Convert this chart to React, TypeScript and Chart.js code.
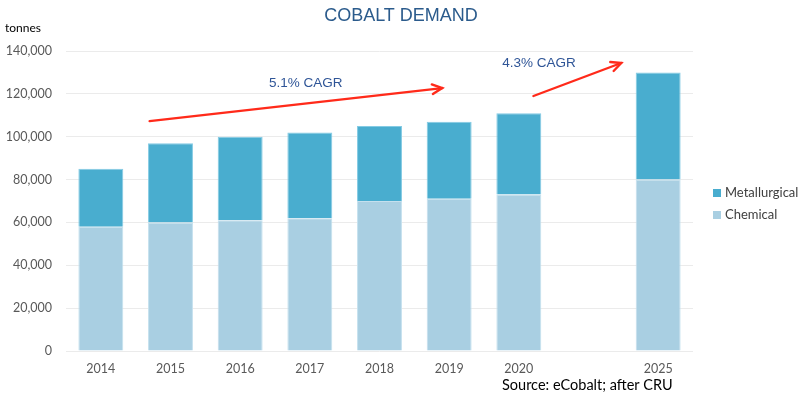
import React, { useEffect, useRef } from "react";
import { Chart, registerables } from "chart.js";

Chart.register(...registerables);

const categories = ["2014", "2015", "2016", "2017", "2018", "2019", "2020", "", "2025"];
const chemical = [58000, 60000, 61000, 62000, 70000, 71000, 73000, null, 80000];
const metallurgical = [27000, 37000, 39000, 40000, 35000, 36000, 38000, null, 50000];
const yTicksMax = 140000;
const yStep = 20000;
const titleText = "COBALT DEMAND";
const unitText = "tonnes";
const sourceText = "Source: eCobalt; after CRU";
// arrows: [fromIndex, fromValue, toIndex, toValue]
const arrows = [
  [0.7, 107300, 4.9, 122700],
  [6.21, 119000, 7.47, 134400],
];
// labels: [text, index, value]
const cagrLabels: [string, number, number][] = [
  ["5.1% CAGR", 2.94, 125000],
  ["4.3% CAGR", 6.29, 134400],
];

const COL_MET = "#49adcf";
const COL_CHEM = "#a9cfe2";

const overlay = {
  id: "overlay",
  afterDraw(chart: any) {
    const ctx = chart.ctx;
    const xs = chart.scales.x;
    const ys = chart.scales.y;
    ctx.save();
    // title
    ctx.fillStyle = "#2b5b8c";
    ctx.font = "18px 'Liberation Sans', Arial, sans-serif";
    ctx.textAlign = "center";
    ctx.textBaseline = "middle";
    ctx.fillText(titleText, 401, 16);
    // unit
    ctx.fillStyle = "#000";
    ctx.font = "12px Lato, sans-serif";
    ctx.textAlign = "left";
    ctx.fillText(unitText, 5, 28);
    // source
    ctx.font = "14.5px Lato, sans-serif";
    ctx.fillText(sourceText, 502, 385);
    // legend
    const items = [
      ["Metallurgical", COL_MET],
      ["Chemical", COL_CHEM],
    ];
    ctx.font = "13px Lato, sans-serif";
    items.forEach((it, i) => {
      const y = 193 + i * 22;
      ctx.fillStyle = it[1];
      ctx.fillRect(713, y - 4, 8, 8);
      ctx.fillStyle = "#404040";
      ctx.fillText(it[0], 725, y);
    });
    // arrows
    ctx.strokeStyle = "#ff2a1a";
    ctx.lineWidth = 2.4;
    ctx.lineCap = "round";
    arrows.forEach((a) => {
      const x1 = xs.getPixelForValue(a[0]);
      const y1 = ys.getPixelForValue(a[1]);
      const x2 = xs.getPixelForValue(a[2]);
      const y2 = ys.getPixelForValue(a[3]);
      ctx.beginPath();
      ctx.moveTo(x1, y1);
      ctx.lineTo(x2, y2);
      ctx.stroke();
      const ang = Math.atan2(y2 - y1, x2 - x1);
      const L = 11;
      ctx.beginPath();
      ctx.moveTo(x2 - L * Math.cos(ang - 0.45), y2 - L * Math.sin(ang - 0.45));
      ctx.lineTo(x2, y2);
      ctx.lineTo(x2 - L * Math.cos(ang + 0.45), y2 - L * Math.sin(ang + 0.45));
      ctx.stroke();
    });
    // CAGR labels
    ctx.fillStyle = "#2f5597";
    ctx.font = "13.5px 'Liberation Sans', Arial, sans-serif";
    ctx.textAlign = "center";
    cagrLabels.forEach((l) => {
      ctx.fillText(l[0], xs.getPixelForValue(l[1]), ys.getPixelForValue(l[2]));
    });
    ctx.restore();
  },
};

export default function App() {
  const ref = useRef<HTMLCanvasElement>(null);
  useEffect(() => {
    if (!ref.current) return;
    const chart = new Chart(ref.current, {
      type: "bar",
      data: {
        labels: categories,
        datasets: [
          { label: "Chemical", data: chemical as any, backgroundColor: COL_CHEM, borderColor: "#c4e0ee", borderWidth: 1, barPercentage: 0.645, categoryPercentage: 1 },
          { label: "Metallurgical", data: metallurgical as any, backgroundColor: COL_MET, borderColor: "#84cbe4", borderWidth: 1, barPercentage: 0.645, categoryPercentage: 1 },
        ],
      },
      options: {
        animation: false,
        responsive: false,
        layout: { padding: { left: 0, top: 51, right: 106, bottom: 0 } },
        plugins: { legend: { display: false }, title: { display: false }, tooltip: { enabled: false } },
        scales: {
          x: {
            stacked: true,
            grid: { display: false, drawTicks: false },
            border: { display: false },
            ticks: { color: "#595959", font: { family: "Lato, sans-serif", size: 12.5 }, padding: 10 },
            afterFit: (s: any) => { s.height = 48; },
          },
          y: {
            stacked: true,
            min: 0,
            max: yTicksMax,
            grid: { color: "#ebebeb", drawTicks: false, lineWidth: 1 },
            border: { display: false },
            ticks: {
              stepSize: yStep,
              color: "#595959",
              padding: 14,
              font: { family: "Lato, sans-serif", size: 12.5 },
              callback: (v: any) => Number(v).toLocaleString("en-US"),
            },
            afterFit: (s: any) => { s.width = 66; },
          },
        },
      },
      plugins: [overlay],
    });
    return () => chart.destroy();
  }, []);
  return (
    <div style={{ position: "fixed", left: 0, top: 0, width: 799, height: 399, background: "#fff" }}>
      <canvas ref={ref} width={799} height={399} style={{ width: 799, height: 399 }} />
    </div>
  );
}
